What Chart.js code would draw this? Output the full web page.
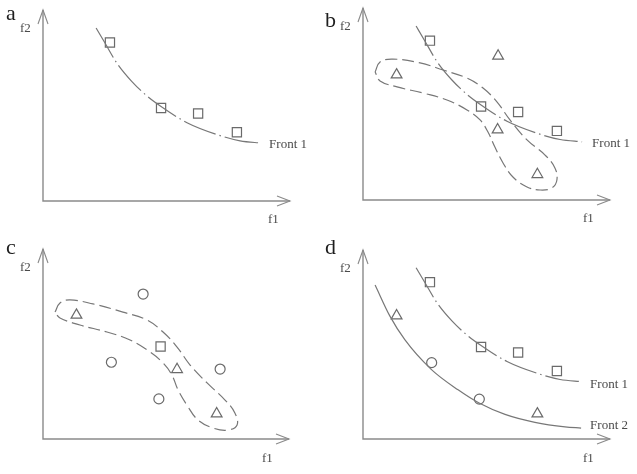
<!DOCTYPE html>
<html>
<head>
<meta charset="utf-8">
<script src="https://cdn.jsdelivr.net/npm/chart.js@4/dist/chart.umd.min.js"></script>
<style>
    body { margin: 0; background: #fff; }
    .panel { position: absolute; }
</style>
</head>
<body>
<canvas id="chartA" class="panel" width="318" height="237" style="left:0;top:0"></canvas>
<canvas id="chartB" class="panel" width="319" height="237" style="left:318px;top:0"></canvas>
<canvas id="chartC" class="panel" width="318" height="237" style="left:0;top:237px"></canvas>
<canvas id="chartD" class="panel" width="319" height="237" style="left:318px;top:237px"></canvas>
<script>
/*
* data (f1, f2 in axis units 0..10)
*/
const squareX = [2.71, 4.78, 6.28, 7.85];
const squareY = [8.30, 4.87, 4.58, 3.60];
const triangleX = [1.36, 5.45, 7.06, 5.47];
const triangleY = [6.52, 3.66, 1.33, 7.50];
const circleX = [4.07, 2.78, 4.71, 7.20];
const circleY = [7.63, 4.04, 2.11, 3.68];

// front 1 (dash-dot) and front 2 (solid)
const front1X = [2.15, 2.51, 3.00, 3.60, 4.21, 4.78, 5.83, 7.04, 7.98, 8.87];
const front1Y = [9.06, 8.27, 7.20, 6.25, 5.50, 4.95, 4.10, 3.48, 3.15, 3.03];
const front2X = [0.49, 1.09, 1.70, 2.75, 3.85, 4.70, 5.75, 6.96, 8.18, 8.83];
const front2Y = [8.15, 6.50, 5.24, 3.70, 2.60, 1.90, 1.30, 0.88, 0.64, 0.58];

// dashed loops round the triangles (panel b, panel c)
const loopBX = [0.49, 0.69, 1.21, 2.31, 3.24, 4.21, 4.86, 5.43, 5.95, 6.64, 7.37, 7.77, 7.85, 7.65, 7.17, 6.64, 6.07, 5.67, 5.34, 5.06, 4.74, 4.21, 3.40, 2.43, 1.38, 0.69];
const loopBY = [6.67, 7.19, 7.34, 7.14, 6.77, 6.35, 5.83, 5.10, 4.17, 3.13, 2.34, 1.67, 1.04, 0.63, 0.52, 0.68, 1.20, 1.93, 2.76, 3.54, 4.17, 4.69, 5.21, 5.57, 5.89, 6.20];
const loopCX = [0.49, 0.69, 1.10, 2.03, 3.25, 4.23, 4.88, 5.45, 5.98, 6.67, 7.40, 7.80, 7.89, 7.52, 6.91, 6.30, 5.85, 5.49, 5.24, 4.88, 4.35, 3.54, 2.60, 1.50, 0.69];
const loopCY = [6.68, 7.16, 7.32, 7.11, 6.68, 6.26, 5.63, 4.84, 3.89, 2.95, 2.05, 1.37, 0.74, 0.47, 0.58, 1.00, 1.79, 2.58, 3.37, 4.00, 4.58, 5.21, 5.63, 6.00, 6.37];

const panelLetters = ['a', 'b', 'c', 'd'];
const axisNames = ['f1', 'f2'];
const frontNames = ['Front 1', 'Front 2'];

const lineGray = '#777777';
const markGray = '#6a6a6a';
const axisGray = '#8a8a8a';

function pts(xs, ys, idx) {
    const list = idx || xs.map((v, i) => i);
    return list.map(i => ({ x: xs[i], y: ys[i] }));
}

function closed(xs, ys) {
    const p = pts(xs, ys);
    p.push({ x: xs[0], y: ys[0] });
    return p;
}

function markers(style, xs, ys, idx, r) {
    return {
        data: pts(xs, ys, idx),
        pointStyle: style,
        pointRadius: r,
        pointBorderColor: markGray,
        pointBackgroundColor: 'rgba(255,255,255,0)',
        pointBorderWidth: 1.2,
        showLine: false,
        clip: false
    };
}

function curve(data, dash, mode) {
    return {
        data: data,
        showLine: true,
        borderColor: lineGray,
        borderWidth: 1.2,
        borderDash: dash,
        pointRadius: 0,
        tension: 0.4,
        cubicInterpolationMode: mode,
        fill: false,
        clip: false
    };
}

// axes with arrows, panel letter, axis names, front labels
const sketchPlugin = {
    id: 'sketch',
    afterDatasetsDraw(chart, args, opts) {
        const ctx = chart.ctx;
        const sx = chart.scales.x, sy = chart.scales.y;
        const x0 = sx.getPixelForValue(0), y0 = sy.getPixelForValue(0);
        const x1 = sx.getPixelForValue(10), y1 = sy.getPixelForValue(10);
        ctx.save();
        ctx.strokeStyle = axisGray;
        ctx.lineWidth = 1.4;
        ctx.beginPath();
        ctx.moveTo(x0, y1);
        ctx.lineTo(x0, y0);
        ctx.lineTo(x1, y0);
        ctx.stroke();
        ctx.lineWidth = 1.1;
        ctx.beginPath();
        ctx.moveTo(x0 - 5, y1 + 14);
        ctx.lineTo(x0, y1);
        ctx.lineTo(x0 + 5, y1 + 14);
        ctx.moveTo(x1 - 13, y0 - 5);
        ctx.lineTo(x1, y0);
        ctx.lineTo(x1 - 13, y0 + 5);
        ctx.stroke();

        ctx.textBaseline = 'alphabetic';
        ctx.textAlign = 'left';
        ctx.fillStyle = '#1e1e1e';
        ctx.font = '22px "Liberation Serif", serif';
        ctx.fillText(opts.letter, opts.letterPos[0], opts.letterPos[1]);

        ctx.fillStyle = '#4a4a4a';
        ctx.font = '13px "Liberation Serif", serif';
        ctx.fillText(axisNames[1], opts.f2Pos[0], opts.f2Pos[1]);
        ctx.fillText(axisNames[0], opts.f1Pos[0], opts.f1Pos[1]);

        (opts.fronts || []).forEach(f => {
            const meta = chart.getDatasetMeta(f.dataset);
            const last = meta.data[meta.data.length - 1];
            ctx.fillText(f.text, last.x + f.dx, last.y + f.dy);
        });
        ctx.restore();
    }
};

function makeChart(id, datasets, pad, sketch) {
    return new Chart(document.getElementById(id), {
        type: 'scatter',
        data: { datasets: datasets },
        plugins: [sketchPlugin],
        options: {
            responsive: false,
            animation: false,
            layout: { padding: pad },
            scales: {
                x: { type: 'linear', min: 0, max: 10, display: false },
                y: { type: 'linear', min: 0, max: 10, display: false }
            },
            plugins: {
                legend: { display: false },
                tooltip: { enabled: false },
                sketch: sketch
            }
        }
    });
}

const dashDot = [34, 4, 1.5, 4];
const longDash = [12, 5];

// a
makeChart('chartA', [
    curve(pts(front1X, front1Y), dashDot, 'monotone'),
    markers('rect', squareX, squareY, null, 6.5)
], { left: 43, right: 28, top: 10, bottom: 36 }, {
    letter: panelLetters[0], letterPos: [6, 20], f2Pos: [20, 32], f1Pos: [268, 223],
    fronts: [{ text: frontNames[0], dataset: 0, dx: 7, dy: 5 }]
});

// b
makeChart('chartB', [
    curve(pts(front1X, front1Y), dashDot, 'monotone'),
    curve(closed(loopBX, loopBY), longDash, 'default'),
    markers('rect', squareX, squareY, null, 6.5),
    markers('triangle', triangleX, triangleY, null, 6.2)
], { left: 45, right: 27, top: 8, bottom: 37 }, {
    letter: panelLetters[1], letterPos: [7, 27], f2Pos: [22, 30], f1Pos: [265, 222],
    fronts: [{ text: frontNames[0], dataset: 0, dx: 10, dy: 5 }]
});

// c
makeChart('chartC', [
    curve(closed(loopCX, loopCY), longDash, 'default'),
    markers('circle', circleX, circleY, null, 5),
    markers('rect', squareX, squareY, [1], 6.5),
    markers('triangle', triangleX, triangleY, [0, 1, 2], 6.2)
], { left: 43, right: 29, top: 12, bottom: 35 }, {
    letter: panelLetters[2], letterPos: [6, 17], f2Pos: [20, 34], f1Pos: [262, 225]
});

// d
makeChart('chartD', [
    curve(pts(front1X, front1Y), dashDot, 'monotone'),
    curve(pts(front2X, front2Y), [], 'monotone'),
    markers('rect', squareX, squareY, null, 6.5),
    markers('triangle', triangleX, triangleY, [0, 2], 6.2),
    markers('circle', circleX, circleY, [1, 2], 5)
], { left: 45, right: 27, top: 13, bottom: 35 }, {
    letter: panelLetters[3], letterPos: [7, 17], f2Pos: [22, 35], f1Pos: [265, 225],
    fronts: [
        { text: frontNames[0], dataset: 0, dx: 8, dy: 6 },
        { text: frontNames[1], dataset: 1, dx: 9, dy: 1 }
    ]
});
</script>
</body>
</html>
